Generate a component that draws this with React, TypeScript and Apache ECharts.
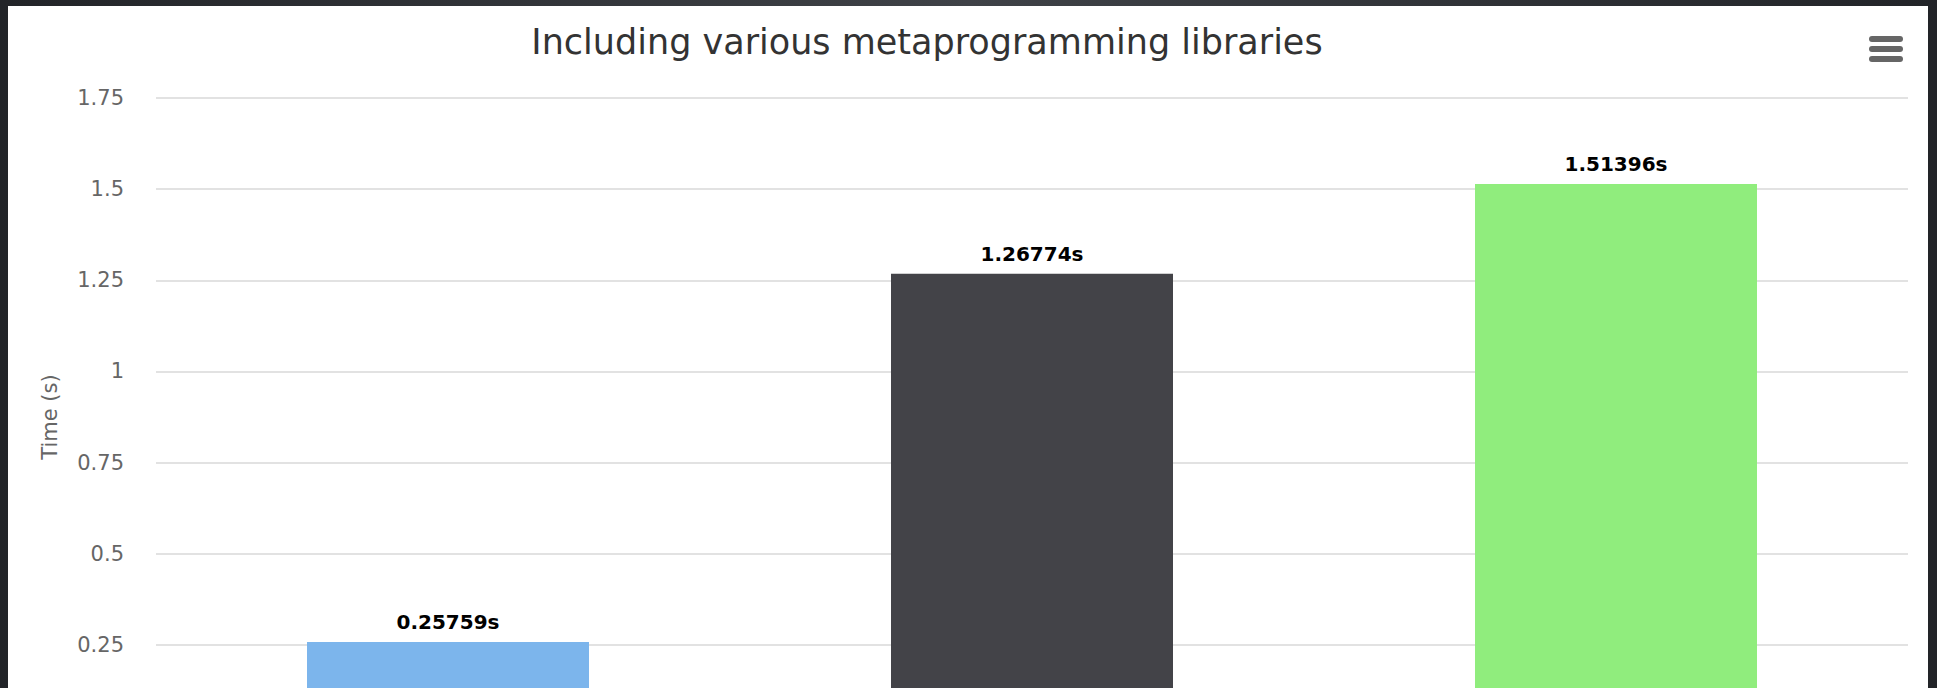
import React, { useEffect, useRef } from "react";
import * as echarts from "echarts";

const categories = ["Boost.Hana", "Boost.MPL + Fusion", "All libraries"];
const values = [0.25759, 1.26774, 1.51396];
const barColors = ["#7cb5ec", "#434348", "#90ed7d"];
const yTicks = [0.25, 0.5, 0.75, 1, 1.25, 1.5, 1.75];
const titleText = "Including various metaprogramming libraries";
const yAxisTitle = "Time (s)";

const FONT = "'DejaVu Sans', sans-serif";

export default function App() {
  const ref = useRef<HTMLDivElement>(null);

  useEffect(() => {
    const el = ref.current;
    if (!el) return;
    const chart = echarts.init(el, undefined, { renderer: "svg" });
    const fmtTick = (v: number) => (yTicks.includes(v) ? String(v) : "");
    chart.setOption({
      animation: false,
      backgroundColor: "#ffffff",
      title: {
        text: titleText,
        left: 914,
        textAlign: "center",
        top: 13,
        textStyle: { fontSize: 35, fontWeight: "normal", color: "#333333", fontFamily: FONT },
      },
      grid: { left: 148, right: 20, top: 92, bottom: 70, containLabel: false },
      xAxis: {
        type: "category",
        data: categories,
        axisLine: { lineStyle: { color: "#ccd6eb" } },
        axisTick: { show: false },
        axisLabel: { show: false, fontSize: 21, color: "#666666", fontFamily: FONT },
      },
      yAxis: {
        type: "value",
        min: 0,
        max: 1.75,
        interval: 0.25,
        name: yAxisTitle,
        nameLocation: "middle",
        nameGap: 96,
        nameTextStyle: { fontSize: 21, color: "#666666", fontFamily: FONT },
        axisLine: { show: false },
        axisTick: { show: false },
        axisLabel: { fontSize: 21, color: "#666666", fontFamily: FONT, margin: 32, formatter: fmtTick },
        splitLine: { lineStyle: { color: "#e2e2e2", width: 2 } },
      },
      series: [
        {
          type: "bar",
          barWidth: 282,
          data: values.map((v, i) => ({ value: v, itemStyle: { color: barColors[i] } })),
          label: {
            show: true,
            position: "top",
            distance: 10,
            formatter: (p: any) => p.value + "s",
            fontSize: 20,
            fontWeight: "bold",
            color: "#000000",
            fontFamily: FONT,
          },
        },
      ],
      graphic: [
        { type: "rect", shape: { x: 1861, y: 30, width: 34, height: 6, r: 3 }, style: { fill: "#666666" } },
        { type: "rect", shape: { x: 1861, y: 40, width: 34, height: 6, r: 3 }, style: { fill: "#666666" } },
        { type: "rect", shape: { x: 1861, y: 50, width: 34, height: 6, r: 3 }, style: { fill: "#666666" } },
      ],
    });
    return () => chart.dispose();
  }, []);

  return (
    <div
      style={{
        position: "fixed",
        left: 0,
        top: 0,
        width: 1937,
        height: 688,
        overflow: "hidden",
        background: "linear-gradient(to right, #222428 0%, #3f4247 50%, #222428 100%)",
      }}
    >
      <div
        ref={ref}
        style={{ position: "absolute", left: 8, top: 6, width: 1920, height: 800, background: "#fff" }}
      />
    </div>
  );
}
